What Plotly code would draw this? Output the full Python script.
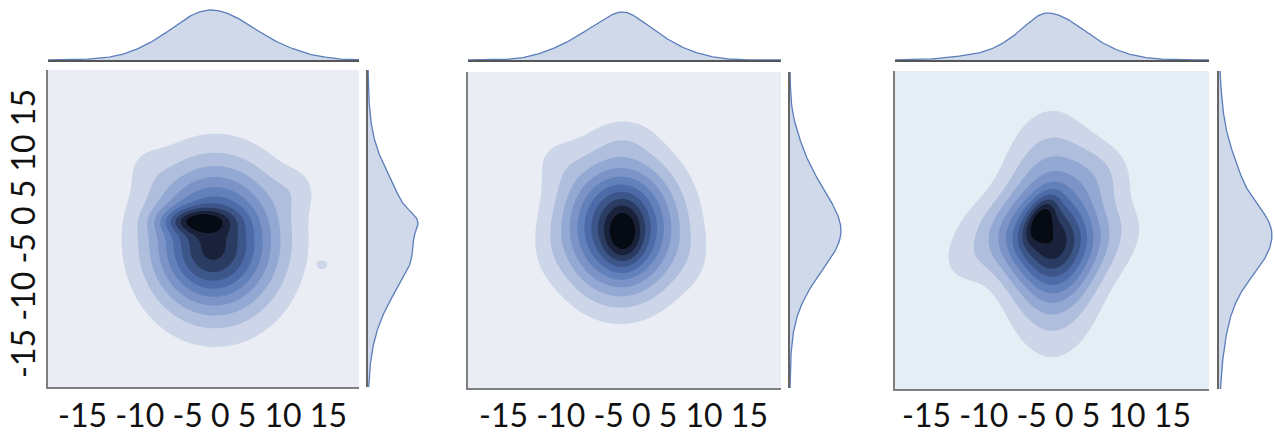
import numpy as np
import plotly.graph_objects as go

# ---------------- data ----------------
TICK_LABELS = ["-15", "-10", "-5", "0", "5", "10", "15"]
AX_RANGE = [-20, 20]

# Gaussian-bump description of each panel's density (centre, spread, tilt, height)
P1_MX = [1.5, -1.0, 0.5, -7.5, 15.4, 12.0]
P1_MY = [-1.5, 1.0, -4.0, 8.0, -4.6, 5.0]
P1_SX = [5.8, 3.0, 3.5, 2.0, 0.7, 2.0]
P1_SY = [6.5, 1.1, 3.0, 2.0, 0.6, 2.0]
P1_RHO = [0.0, 0.0, 0.0, 0.0, 0.0, 0.0]
P1_AMP = [1.0, 0.42, 0.13, 0.06, 0.10, 0.08]

P2_MX = [-0.5, -0.1, -9.0, 0.0, -10.0, 9.0]
P2_MY = [0.3, -0.6, 9.0, 12.0, -3.0, -4.0]
P2_SX = [5.0, 1.6, 2.5, 3.0, 2.0, 2.0]
P2_SY = [5.8, 2.6, 2.5, 2.0, 3.0, 3.0]
P2_RHO = [0.0, 0.0, 0.0, 0.0, 0.0, 0.0]
P2_AMP = [1.0, 0.25, 0.07, 0.06, 0.03, 0.04]

P3_MX = [0.0, -1.0, -1.4, 0.5, -11.5, 6.5, 9.5]
P3_MY = [-0.5, -1.0, 1.6, -5.5, -4.5, 7.0, 1.0]
P3_SX = [4.0, 6.5, 1.4, 3.0, 2.2, 3.0, 2.0]
P3_SY = [8.3, 3.5, 2.0, 3.0, 2.2, 3.0, 2.0]
P3_RHO = [0.0, 0.0, 0.55, 0.0, 0.0, 0.0, 0.0]
P3_AMP = [0.6, 0.42, 0.30, 0.10, 0.07, 0.14, 0.03]

# ---------------- styles ----------------
BAND_COLORS = ["#EAEEF4", "#CDD6E8", "#AEBEDC", "#93A8D2", "#7B93C6", "#6280BA",
               "#4D6BA8", "#3D5689", "#2B3C63", "#19223A", "#060A12"]
BG3 = "#E6EEF5"
W, H = 1274, 436

panels = [
    dict(mx=P1_MX, my=P1_MY, sx=P1_SX, sy=P1_SY, rho=P1_RHO, amp=P1_AMP,
         main_x=(48, 359), main_y=(70, 387), top_y=(9, 60), right_x=(368, 419),
         lab_x=202, bg=BAND_COLORS[0]),
    dict(mx=P2_MX, my=P2_MY, sx=P2_SX, sy=P2_SY, rho=P2_RHO, amp=P2_AMP,
         main_x=(468, 781), main_y=(72, 388), top_y=(11, 60), right_x=(790, 842),
         lab_x=623, bg=BAND_COLORS[0]),
    dict(mx=P3_MX, my=P3_MY, sx=P3_SX, sy=P3_SY, rho=P3_RHO, amp=P3_AMP,
         main_x=(895, 1209), main_y=(71, 389), top_y=(12, 60), right_x=(1219, 1273),
         lab_x=1046, bg=BG3),
]

grid = np.linspace(AX_RANGE[0], AX_RANGE[1], 241)
GX, GY = np.meshgrid(grid, grid)


def density(p):
    z = np.zeros_like(GX)
    for mx, my, sx, sy, r, a in zip(p["mx"], p["my"], p["sx"], p["sy"], p["rho"], p["amp"]):
        dx = (GX - mx) / sx
        dy = (GY - my) / sy
        q = (dx * dx - 2 * r * dx * dy + dy * dy) / (1 - r * r)
        z += a * np.exp(-0.5 * q)
    return z / z.max()


def px_x(a, b):
    return [a / W, b / W]


def px_y(a, b):
    return [1 - b / H, 1 - a / H]


NLEV = 10
STEP = 0.088

fig = go.Figure()
layout = {}
annotations = []
for i, p in enumerate(panels):
    k = 3 * i
    xm, ym = f"x{k+1}", f"y{k+1}"
    xt, yt = f"x{k+2}", f"y{k+2}"
    xr, yr = f"x{k+3}", f"y{k+3}"
    z = density(p)
    colors = [p["bg"]] + BAND_COLORS[1:]
    cscale = [[j / NLEV, c] for j, c in enumerate(colors)]
    fig.add_trace(go.Contour(
        x=grid, y=grid, z=z, xaxis=xm, yaxis=ym,
        contours=dict(start=STEP, end=STEP * NLEV, size=STEP,
                      coloring="fill", showlines=False),
        line=dict(width=0), colorscale=cscale, showscale=False,
        hoverinfo="skip"))
    top = z.sum(axis=0)
    right = z.sum(axis=1)
    fig.add_trace(go.Scatter(
        x=grid, y=top, xaxis=xt, yaxis=yt, mode="lines", fill="tozeroy",
        line=dict(color="#5B7DBA", width=1.3), fillcolor="rgba(76,114,176,0.27)",
        hoverinfo="skip", showlegend=False))
    fig.add_trace(go.Scatter(
        x=right, y=grid, xaxis=xr, yaxis=yr, mode="lines", fill="tozerox",
        line=dict(color="#5B7DBA", width=1.3), fillcolor="rgba(76,114,176,0.27)",
        hoverinfo="skip", showlegend=False))

    base = dict(showgrid=False, zeroline=False, showticklabels=False, ticks="")
    layout[f"xaxis{k+1}"] = dict(base, domain=px_x(*p["main_x"]), range=AX_RANGE,
                                 anchor=ym, showline=True, linecolor="#7F7F7F", linewidth=2)
    layout[f"yaxis{k+1}"] = dict(base, domain=px_y(*p["main_y"]), range=AX_RANGE,
                                 anchor=xm, showline=True, linecolor="#7F7F7F", linewidth=2)
    layout[f"xaxis{k+2}"] = dict(base, domain=px_x(*p["main_x"]), range=AX_RANGE,
                                 anchor=yt, showline=True, linecolor="#555555", linewidth=2)
    layout[f"yaxis{k+2}"] = dict(base, domain=px_y(*p["top_y"]),
                                 range=[0, top.max() * 1.02], anchor=xt, showline=False)
    layout[f"xaxis{k+3}"] = dict(base, domain=px_x(*p["right_x"]),
                                 range=[0, right.max() * 1.02], anchor=yr, showline=False)
    layout[f"yaxis{k+3}"] = dict(base, domain=px_y(*p["main_y"]), range=AX_RANGE,
                                 anchor=xr, showline=True, linecolor="#666666", linewidth=2)

    annotations.append(dict(text=" ".join(TICK_LABELS), xref="paper", yref="paper",
                            x=p["lab_x"] / W, y=0, xanchor="center",
                            yanchor="bottom", showarrow=False,
                            font=dict(family="Lato", size=32, color="#111111")))

annotations.append(dict(text=" ".join(TICK_LABELS), xref="paper", yref="paper",
                        x=22 / W, y=1 - 234 / H, xanchor="center", yanchor="middle",
                        textangle=-90, showarrow=False,
                        font=dict(family="Lato", size=32, color="#111111")))

fig.update_layout(width=W, height=H, margin=dict(l=0, r=0, t=0, b=0),
                  paper_bgcolor="white", plot_bgcolor="white", showlegend=False,
                  annotations=annotations, **layout)

fig.write_html("out.html", config={"displayModeBar": False},
               post_script="document.body.style.margin='0';")
